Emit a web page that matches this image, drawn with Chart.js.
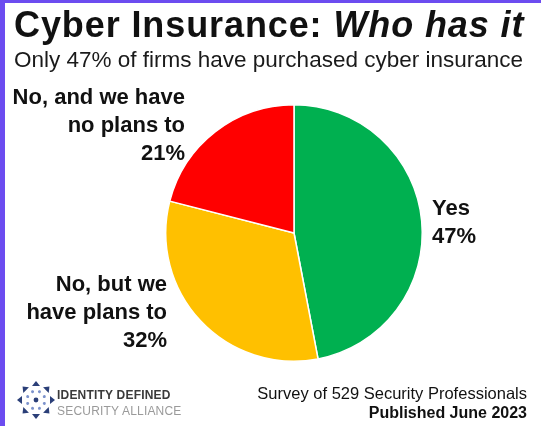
<!DOCTYPE html>
<html>
<head>
<meta charset="utf-8">
<script src="https://cdn.jsdelivr.net/npm/chart.js@4.4.0/dist/chart.umd.min.js"></script>
<style>
  html, body { margin: 0; padding: 0; }
  body {
    width: 541px; height: 426px; overflow: hidden; background: #fff;
    font-family: "Liberation Sans", Arial, sans-serif; color: #111;
    position: relative;
  }
  .frame-top  { position: absolute; left: 0; top: 0; width: 541px; height: 3px; background: #6C4CF0; }
  .frame-left { position: absolute; left: 0; top: 0; width: 5px; height: 426px; background: #6C4CF0; }
  #wrap { position: absolute; left: 0; top: 0; width: 541px; height: 426px; }
  .title { position: absolute; left: 14px; top: 4px; font-size: 36px; font-weight: 700; line-height: 42px; letter-spacing: 0.9px; white-space: nowrap; }
  .subtitle { position: absolute; left: 14px; top: 46px; font-size: 22.5px; line-height: 28px; white-space: nowrap; color: #1a1a1a; }
  .survey { position: absolute; right: 14px; top: 383px; font-size: 16.5px; line-height: 20px; text-align: right; white-space: nowrap; }
  .published { position: absolute; right: 14px; top: 403px; font-size: 16px; font-weight: 700; line-height: 20px; white-space: nowrap; }
  .logo { position: absolute; left: 17px; top: 380px; width: 180px; height: 42px; }
  .logo svg { position: absolute; left: 0; top: 0; }
  .logo .l1 { position: absolute; left: 40px; top: 8px; font-size: 12px; font-weight: 700; color: #3a3a3a; letter-spacing: 0.2px; }
  .logo .l2 { position: absolute; left: 40px; top: 24px; font-size: 12px; color: #9a9a9a; letter-spacing: 0.2px; }
</style>
</head>
<body>
<div id="wrap"><canvas id="pie" width="541" height="426"></canvas></div>
<div class="frame-top"></div>
<div class="frame-left"></div>
<div class="title">Cyber Insurance: <i>Who has it</i></div>
<div class="subtitle">Only 47% of firms have purchased cyber insurance</div>
<div class="logo">
  <svg width="38" height="40" viewBox="0 0 38 40">
    <g transform="translate(19,20)">
      <circle r="2.4" fill="#2b3f78"/>
      <g fill="#2b3f78">
        <polygon points="0,-19 -4,-14 4,-14"/>
        <polygon points="0,-19 -4,-14 4,-14" transform="rotate(45)"/>
        <polygon points="0,-19 -4,-14 4,-14" transform="rotate(90)"/>
        <polygon points="0,-19 -4,-14 4,-14" transform="rotate(135)"/>
        <polygon points="0,-19 -4,-14 4,-14" transform="rotate(180)"/>
        <polygon points="0,-19 -4,-14 4,-14" transform="rotate(225)"/>
        <polygon points="0,-19 -4,-14 4,-14" transform="rotate(270)"/>
        <polygon points="0,-19 -4,-14 4,-14" transform="rotate(315)"/>
      </g>
      <g fill="#7d93cc">
        <circle cx="0" cy="-9" r="1.5" transform="rotate(22.5)"/>
        <circle cx="0" cy="-9" r="1.5" transform="rotate(67.5)"/>
        <circle cx="0" cy="-9" r="1.5" transform="rotate(112.5)"/>
        <circle cx="0" cy="-9" r="1.5" transform="rotate(157.5)"/>
        <circle cx="0" cy="-9" r="1.5" transform="rotate(202.5)"/>
        <circle cx="0" cy="-9" r="1.5" transform="rotate(247.5)"/>
        <circle cx="0" cy="-9" r="1.5" transform="rotate(292.5)"/>
        <circle cx="0" cy="-9" r="1.5" transform="rotate(337.5)"/>
      </g>
    </g>
  </svg>
  <div class="l1">IDENTITY DEFINED</div>
  <div class="l2">SECURITY ALLIANCE</div>
</div>
<div class="survey">Survey of 529 Security Professionals</div>
<div class="published">Published June 2023</div>

<script>
// ── Data ───────────────────────────────────────────────────────────────────
const CATEGORIES = ['Yes', 'No, but we have plans to', 'No, and we have no plans to'];
const LABEL_LINES = [
  ['Yes'],
  ['No, but we', 'have plans to'],
  ['No, and we have', 'no plans to'],
];
const VALUES = [47, 32, 21];
const COLORS = ['#00B050', '#FFC000', '#FF0000'];

// label anchors relative to pie centre, [dx, dy, align]
const LABEL_POS = [
  [138, -10, 'left'],
  [-127, 80, 'right'],
  [-109, -107, 'right'],
];

// ── Outside labels ─────────────────────────────────────────────────────────
const sliceLabels = {
  id: 'sliceLabels',
  afterDatasetsDraw(chart) {
    const { ctx } = chart;
    const arcs = chart.getDatasetMeta(0).data;
    ctx.save();
    ctx.font = 'bold 22px "Liberation Sans", Arial, sans-serif';
    ctx.fillStyle = '#111';
    ctx.textBaseline = 'middle';
    const lh = 28;
    arcs.forEach((arc, i) => {
      const lines = [...LABEL_LINES[i], VALUES[i] + '%'];
      const [dx, dy, align] = LABEL_POS[i];
      ctx.textAlign = align;
      const x0 = arc.x + dx;
      const y0 = arc.y + dy - (lines.length - 1) * lh / 2;
      lines.forEach((ln, k) => ctx.fillText(ln, x0, y0 + k * lh));
    });
    ctx.restore();
  },
};

new Chart(document.getElementById('pie'), {
  type: 'pie',
  data: {
    labels: CATEGORIES,
    datasets: [{
      data: VALUES,
      backgroundColor: COLORS,
      borderColor: '#fff',
      borderWidth: 1.5,
    }],
  },
  options: {
    responsive: false,
    animation: false,
    layout: { padding: { left: 165, right: 118, top: 104, bottom: 64 } },
    plugins: {
      legend: { display: false },
      tooltip: { enabled: false },
    },
  },
  plugins: [sliceLabels],
});
</script>
</body>
</html>
